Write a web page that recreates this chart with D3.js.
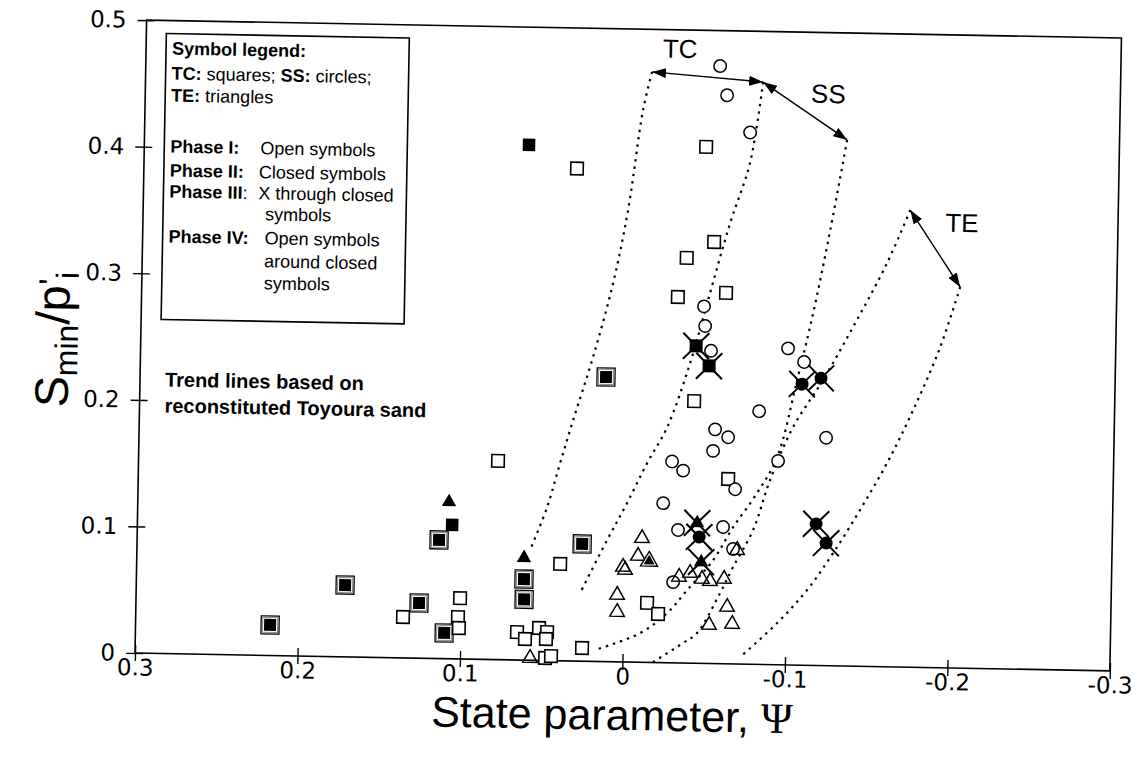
<!DOCTYPE html>
<html>
<head>
<meta charset="utf-8">
<script src="https://cdn.jsdelivr.net/npm/d3@7"></script>
<style>
  body { margin: 0; background: #fff; }
  svg { display: block; }
  text { fill: #000; }
  .tick text { font-family: "DejaVu Sans", Verdana, sans-serif; font-size: 23px; }
</style>
</head>
<body>
<svg id="chart" width="1139" height="766" font-family="Liberation Sans, Arial, Helvetica, sans-serif"></svg>
<script>
// ---- axis ticks ----
const xTicks = [0.3, 0.2, 0.1, 0, -0.1, -0.2, -0.3];
const xTickLabels = ["0.3", "0.2", "0.1", "0", "-0.1", "-0.2", "-0.3"];
const yTicks = [0, 0.1, 0.2, 0.3, 0.4, 0.5];
const yTickLabels = ["0", "0.1", "0.2", "0.3", "0.4", "0.5"];

// ---- TC (squares): [state parameter, Smin/p'i] ----
const tcPhaseI = [
  [0.0335, 0.389], [-0.035, 0.320], [-0.030, 0.289], [-0.0457, 0.408], [-0.0517, 0.333],
  [-0.0596, 0.293], [-0.0412, 0.207], [0.0788, 0.157], [-0.063, 0.146], [0.0394, 0.0765],
  [-0.0145, 0.047], [-0.0214, 0.0384], [0.0652, 0.022], [0.0602, 0.0167], [0.0517, 0.0256],
  [0.0467, 0.0225], [0.0473, 0.017], [0.025, 0.0104], [0.0476, 0.002], [0.044, 0.0036],
  [0.1355, 0.0323], [0.1006, 0.048], [0.1017, 0.033], [0.101, 0.0244]
];
const tcPhaseII = [[0.0633, 0.407], [0.1063, 0.1057]];
const tcPhaseIII = [[-0.0418, 0.2506], [-0.050, 0.235]];
const tcPhaseIV = [
  [0.2172, 0.0241], [0.1715, 0.0567], [0.1258, 0.0436], [0.1142, 0.0937], [0.110, 0.0203],
  [0.0133, 0.2248], [0.0615, 0.064], [0.0612, 0.048], [0.0261, 0.0926]
];

// ---- SS (circles) ----
const ssPhaseI = [
  [-0.0534, 0.472], [-0.058, 0.449], [-0.0726, 0.420], [-0.0462, 0.282], [-0.0471, 0.2665],
  [-0.051, 0.247], [-0.0984, 0.250], [-0.1084, 0.2395], [-0.0813, 0.200], [-0.1228, 0.180],
  [-0.0544, 0.185], [-0.0625, 0.179], [-0.0534, 0.168], [-0.0283, 0.159], [-0.0352, 0.152],
  [-0.0935, 0.161], [-0.0674, 0.138], [-0.0233, 0.126], [-0.0327, 0.105], [-0.0604, 0.108],
  [-0.0668, 0.0908], [-0.0303, 0.0638]
];
const ssPhaseIII = [[-0.1074, 0.222], [-0.119, 0.227], [-0.1176, 0.1118], [-0.124, 0.0968], [-0.0458, 0.0998]];

// ---- TE (triangles) ----
const tePhaseI = [
  [-0.0107, 0.098], [-0.0084, 0.0839], [0.0007, 0.075], [-0.0006, 0.0727], [0.004, 0.0528],
  [0.0038, 0.0393], [-0.0339, 0.068], [-0.0406, 0.0712], [-0.048, 0.0667], [-0.053, 0.065],
  [-0.0616, 0.067], [-0.0638, 0.0449], [-0.0671, 0.0315], [-0.0529, 0.0304], [0.0569, 0.0017],
  [-0.0693, 0.090]
];
const tePhaseII = [[0.1085, 0.1238], [0.0617, 0.0807]];
const tePhaseIII = [[-0.0444, 0.1108], [-0.0473, 0.080]];
const tePhaseIV = [[-0.0153, 0.080]];

// ---- trend lines (reconstituted Toyoura sand) ----
const trendA = [[-0.0116, 0.4664], [-0.0065, 0.4363], [0.0016, 0.357], [0.010, 0.299], [0.0215, 0.2404],
  [0.0331, 0.190], [0.0406, 0.156], [0.0481, 0.121], [0.0581, 0.087]];
const trendB = [[-0.080, 0.460], [-0.0729, 0.396], [-0.0613, 0.348], [-0.0486, 0.287], [-0.0383, 0.237],
  [-0.0249, 0.186], [-0.013, 0.1575], [-0.0011, 0.1256], [0.0108, 0.096], [0.0268, 0.0538]];
const trendC = [[-0.1324, 0.4155], [-0.123, 0.344], [-0.1134, 0.278], [-0.1043, 0.225], [-0.0929, 0.164],
  [-0.081, 0.1354], [-0.0666, 0.108], [-0.0547, 0.0818], [-0.039, 0.0577], [-0.027, 0.0393],
  [-0.0105, 0.023], [0.0151, 0.0099]];
const trendD = [[-0.172, 0.361], [-0.1584, 0.319], [-0.1382, 0.268], [-0.1203, 0.2256], [-0.1024, 0.188],
  [-0.0888, 0.1458], [-0.0789, 0.106], [-0.067, 0.0765], [-0.0593, 0.0558], [-0.0456, 0.024],
  [-0.0371, 0.0158], [-0.0189, 0.0004]];
const trendE = [[-0.2036, 0.301], [-0.1919, 0.253], [-0.176, 0.203], [-0.1606, 0.161], [-0.1445, 0.1235],
  [-0.1284, 0.089], [-0.1128, 0.0595], [-0.0948, 0.033], [-0.0724, 0.0056]];

// band labels and their anchor points
const bandLabels = [
  { text: "TC", at: [-0.0286, 0.478] },
  { text: "SS", at: [-0.1203, 0.4445] },
  { text: "TE", at: [-0.204, 0.3445] }
];

// ---- layout ----
const W = 975, H = 633;
const x = d3.scaleLinear().domain([0.3, -0.3]).range([0, W]);
const y = d3.scaleLinear().domain([0, 0.5]).range([0, -H]);

const svg = d3.select("#chart");
const defs = svg.append("defs");
defs.append("marker")
  .attr("id", "head")
  .attr("viewBox", "0 0 14 10")
  .attr("refX", 14).attr("refY", 5)
  .attr("markerUnits", "userSpaceOnUse")
  .attr("markerWidth", 14).attr("markerHeight", 10)
  .attr("orient", "auto-start-reverse")
  .append("path").attr("d", "M0,0 L14,5 L0,10 Z").attr("fill", "#000");

// whole figure sits on a slightly tilted frame
const g = svg.append("g").attr("transform", "translate(135,653) rotate(1.05)");

// plot frame
g.append("rect")
  .attr("x", 0).attr("y", -H).attr("width", W).attr("height", H)
  .attr("fill", "none").attr("stroke", "#000").attr("stroke-width", 1.6);

// x axis
const xAxis = g.append("g").call(
  d3.axisBottom(x).tickValues(xTicks).tickFormat((d, i) => xTickLabels[i]).tickSize(0).tickPadding(6)
);
xAxis.attr("font-family", null).attr("font-size", null);
xAxis.select(".domain").remove();
xAxis.selectAll(".tick line").attr("y1", -8).attr("y2", 8).attr("stroke", "#000").attr("stroke-width", 1.4);
xAxis.selectAll(".tick text").attr("fill", "#000");

// y axis
const yAxis = g.append("g").call(
  d3.axisLeft(y).tickValues(yTicks).tickFormat((d, i) => yTickLabels[i]).tickSize(0).tickPadding(20)
);
yAxis.attr("font-family", null).attr("font-size", null);
yAxis.select(".domain").remove();
yAxis.selectAll(".tick line").attr("x1", -9).attr("x2", 8).attr("stroke", "#000").attr("stroke-width", 1.4);
yAxis.selectAll(".tick text").attr("fill", "#000");

// axis titles
g.append("text")
  .attr("x", 478).attr("y", 68)
  .attr("text-anchor", "middle").attr("font-size", 43)
  .html('State parameter, <tspan font-family="Liberation Serif, Times New Roman, serif">&#936;</tspan>');

const yt = g.append("text")
  .attr("transform", "translate(-72,-312) rotate(-90)")
  .attr("text-anchor", "middle").attr("font-size", 47);
yt.append("tspan").text("S");
yt.append("tspan").attr("font-size", 32).attr("dy", 9).text("min");
yt.append("tspan").attr("dy", -9).text("/p");
yt.append("tspan").attr("font-size", 34).attr("dy", -7).text("'");
yt.append("tspan").attr("font-size", 32).attr("dy", 16).text("i");

// trend lines
const line = d3.line().x(d => x(d[0])).y(d => y(d[1])).curve(d3.curveCatmullRom);
[trendA, trendB, trendC, trendD, trendE].forEach(tr => {
  g.append("path").attr("d", line(tr))
    .attr("fill", "none").attr("stroke", "#000").attr("stroke-width", 2.2)
    .attr("stroke-dasharray", "2.4,5").attr("stroke-linecap", "butt");
});

// double-headed arrows between band tops
[[trendA[0], trendB[0]], [trendB[0], trendC[0]], [trendD[0], trendE[0]]].forEach(([a, b]) => {
  g.append("line")
    .attr("x1", x(a[0])).attr("y1", y(a[1])).attr("x2", x(b[0])).attr("y2", y(b[1]))
    .attr("stroke", "#000").attr("stroke-width", 1.4)
    .attr("marker-start", "url(#head)").attr("marker-end", "url(#head)");
});

bandLabels.forEach(l => {
  g.append("text").attr("x", x(l.at[0])).attr("y", y(l.at[1]))
    .attr("text-anchor", "middle").attr("font-size", 26).text(l.text);
});

// ---- symbols ----
const sq = (s) => d3.symbol().type(d3.symbolSquare).size(s * s)();
const tri = (side) => d3.symbol().type(d3.symbolTriangle).size(Math.sqrt(3) / 4 * side * side)();
const pos = d => `translate(${x(d[0])},${y(d[1])})`;

function xMark(sel) {
  sel.append("path").attr("d", "M-13,-13L13,13M-13,13L13,-13")
    .attr("stroke", "#000").attr("stroke-width", 2).attr("fill", "none");
}

function layer(data, draw) {
  const s = g.append("g").selectAll("g").data(data).join("g").attr("transform", pos);
  draw(s);
}

// TC squares
layer(tcPhaseIV, s => {
  s.append("path").attr("d", sq(18)).attr("fill", "#fff").attr("stroke", "#000").attr("stroke-width", 1.3);
  s.append("path").attr("d", sq(15)).attr("fill", "none").attr("stroke", "#888").attr("stroke-width", 1);
  s.append("path").attr("d", sq(12)).attr("fill", "#000");
});
layer(tcPhaseI, s => s.append("path").attr("d", sq(12.5)).attr("fill", "#fff").attr("stroke", "#000").attr("stroke-width", 1.6));
layer(tcPhaseII, s => s.append("path").attr("d", sq(12.5)).attr("fill", "#000"));
layer(tcPhaseIII, s => { xMark(s); s.append("path").attr("d", sq(13)).attr("fill", "#000"); });

// SS circles
layer(ssPhaseI, s => s.append("circle").attr("r", 6.2).attr("fill", "#fff").attr("stroke", "#000").attr("stroke-width", 1.5));
layer(ssPhaseIII, s => { xMark(s); s.append("circle").attr("r", 6.5).attr("fill", "#000"); });

// TE triangles
layer(tePhaseI, s => s.append("path").attr("d", tri(14.5)).attr("fill", "none").attr("stroke", "#000").attr("stroke-width", 1.5));
layer(tePhaseII, s => s.append("path").attr("d", tri(14.5)).attr("fill", "#000"));
layer(tePhaseIII, s => { xMark(s); s.append("path").attr("d", tri(14.5)).attr("fill", "#000"); });
layer(tePhaseIV, s => {
  s.append("path").attr("d", tri(17)).attr("fill", "#fff").attr("stroke", "#000").attr("stroke-width", 1.4);
  s.append("path").attr("d", tri(11)).attr("fill", "#000");
});

// ---- legend box ----
const lg = g.append("g");
lg.append("rect").attr("x", 20).attr("y", -620).attr("width", 243).attr("height", 286)
  .attr("fill", "#fff").attr("stroke", "#000").attr("stroke-width", 1.6);

const LF = 18;
const legendLines = [
  { y: -599, parts: [["Symbol legend:", true]] },
  { y: -574, parts: [["TC:", true], ["\u00a0squares;\u00a0", false], ["SS:", true], ["\u00a0circles;", false]] },
  { y: -552, parts: [["TE:", true], ["\u00a0triangles", false]] },
  { y: -501, parts: [["Phase I:", true]], rest: "Open symbols", rx: 116 },
  { y: -477, parts: [["Phase II:", true]], rest: "Closed symbols", rx: 115 },
  { y: -456, parts: [["Phase III", true], [":", false]], rest: "X through closed", rx: 115 },
  { y: -435, parts: [], rest: "symbols", rx: 122 },
  { y: -411, parts: [["Phase IV:", true]], rest: "Open symbols", rx: 122 },
  { y: -388, parts: [], rest: "around closed", rx: 122 },
  { y: -366, parts: [], rest: "symbols", rx: 122 }
];
legendLines.forEach(l => {
  if (l.parts.length) {
    const t = lg.append("text").attr("x", 26).attr("y", l.y).attr("font-size", LF);
    l.parts.forEach(([txt, bold]) => t.append("tspan").attr("font-weight", bold ? "bold" : "normal").text(txt));
  }
  if (l.rest) lg.append("text").attr("x", l.rx).attr("y", l.y).attr("font-size", LF).text(l.rest);
});

g.append("text").attr("x", 25).attr("y", -267).attr("font-size", 20).attr("font-weight", "bold")
  .text("Trend lines based on");
g.append("text").attr("x", 25).attr("y", -241).attr("font-size", 20).attr("font-weight", "bold")
  .text("reconstituted Toyoura sand");
</script>
</body>
</html>
